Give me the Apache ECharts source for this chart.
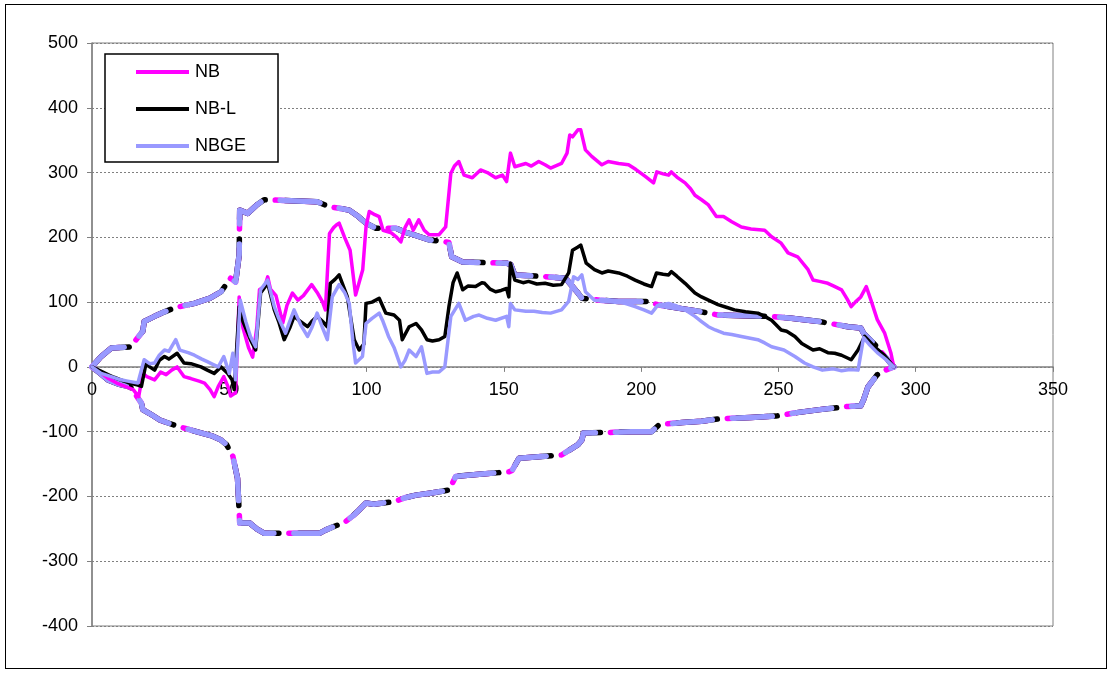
<!DOCTYPE html>
<html>
<head>
<meta charset="utf-8">
<script src="https://cdn.jsdelivr.net/npm/echarts@6/dist/echarts.min.js"></script>
<style>
  html, body { margin: 0; padding: 0; background: #fff; }
  #frame { position: absolute; left: 5px; top: 4px; width: 1102px; height: 665px; border: 1px solid #000; box-sizing: border-box; }
  #chart { position: absolute; left: 0; top: 0; width: 1110px; height: 673px; }
</style>
</head>
<body>
<div id="frame"></div>
<div id="chart"></div>
<script>
// Cumulative statistics, [step, value]
const nbData = [
  [0,0],[3,-8],[6,-18],[9,-25],[12,-30],[15,-35],[17,-46],[18.5,-10],[20,-15],[22.8,-20],[25,-8],[27,-12],[29,-5],[31,0],
  [33.5,-15],[36,-18],[39,-22],[41,-25],[43,-35],[44.5,-46],[46,-30],[48,-15],[49.5,-30],[50.5,-45],[52.3,-40],[53.6,108],
  [55,60],[57,30],[58.5,15],[60,60],[61,119],[63,125],[64,139],[65,120],[67,110],[69.5,68],[71,95],[73,114],[75,103],[77,110],
  [80,127],[82,115],[84,100],[85,88],[86.5,206],[88,215],[89,219],[90,222],[92,200],[94,180],[96,111],[98.6,150],[99.8,216],
  [101,240],[103,235],[104.6,232],[106,211],[109,207],[111,200],[112.5,193],[114,215],[115.5,227],[117,211],[119,227],[121,211],
  [122.8,204],[126.4,204],[128.8,216],[130.7,299],[132,310],[133.6,317],[135.5,296],[138.5,292],[141.5,304],[144,300],[147,292],
  [149.5,296],[151,286],[152.4,330],[154,309],[158,314],[160,310],[162.7,317],[165,312],[167,307],[171,314],[173,330],[174,358],
  [175,355],[177,366],[178,366],[179.7,335],[182,325],[185.7,312],[188,317],[191.8,314],[195.4,312],[198,305],[201.5,294],
  [204.5,284],[205.7,301],[208,298],[210,296],[211,301],[213,293],[216,284],[218,275],[219.6,265],[222,258],[224.5,250],
  [227.4,232],[230,232],[233,224],[236.5,216],[240,213],[245,211],[247.5,201],[251,191],[253.5,176],[257,170],[260.8,150],
  [262.6,134],[265,132],[268,129],[270,125],[273,119],[275,105],[276.5,93],[278,100],[280,108],[282,124],[283.7,103],[286,73],
  [288.7,52],[291,21],[292,0]
];

const nblData = [
  [0,0],[3,-6],[5.8,-12],[8,-16],[10.5,-20],[13,-24],[16.7,-28],[18,-30],[19.7,6],[21,0],[22.8,-5],[24.5,10],[26.4,16],[28,12],
  [31,21],[33.5,6],[36,5],[39.7,0],[42,-5],[44.5,-10],[47,0],[49.4,-10],[51,-20],[51.8,-35],[53.6,93],[55,70],[57.7,42],[59.6,26],
  [61.4,114],[64,129],[66.4,88],[68,70],[70,42],[72,60],[73.6,78],[76,70],[78.5,62],[80,70],[82,78],[84,70],[85.7,62],[86.8,129],
  [88.5,135],[90,142],[91.5,125],[93,108],[95.5,42],[97.3,26],[99,35],[99.8,98],[102,100],[104.6,106],[107,83],[110,80],[112,72],
  [113,42],[115.5,62],[118,67],[120,57],[122,42],[124,40],[126.4,42],[128.5,47],[130,93],[131.5,130],[133,145],[135,119],[137,125],
  [139.7,124],[142,130],[143,129],[145,120],[147,116],[149,118],[151,121],[151.8,108],[152.4,160],[154,134],[157,130],[159,132],
  [162,128],[165,129],[168,126],[171,127],[173.6,145],[175,180],[177,185],[178,188],[180,160],[183,150],[185.7,145],[188,148],
  [191.8,145],[195,140],[197.8,134],[201,128],[203.8,124],[205.6,145],[208,143],[210,142],[211,147],[213,140],[216,129],
  [219.6,114],[222,108],[224.5,103],[228,96],[231,92],[234,88],[238,85],[242.5,83],[245,78],[247.5,72],[251,57],[253,55],[256,47],
  [258.5,36],[262.6,26],[265,28],[268,22],[270.5,21],[273,18],[276.5,11],[279,26],[281.4,47],[285,31],[288.6,18],[292,0]
];

const nbgeData = [
  [0,0],[3.3,-10],[7,-15],[10.5,-20],[13,-22],[16.7,-25],[19,11],[21,5],[22.8,6],[24.5,18],[26.4,26],[28,24],[30.5,42],[32,26],
  [35,22],[37.3,18],[40,12],[42,8],[44,4],[46,0],[48,16],[50,-10],[51.3,21],[52.3,-20],[54,103],[56,70],[57.7,47],[59.6,31],
  [61.4,119],[64,134],[66.4,93],[68,75],[70.5,52],[72,70],[73.6,88],[76,65],[78.5,47],[80,60],[82,83],[84,60],[85.7,42],[87.5,108],
  [90,127],[92,115],[93.7,98],[95,40],[96,6],[98.5,16],[99.8,67],[102,75],[104.6,83],[106,70],[108,47],[110,30],[112.5,0],[114,10],
  [115.5,26],[118,16],[120,31],[122,-10],[124,-8],[126.4,-8],[128.5,0],[130.7,78],[133.6,98],[136,72],[139,78],[141,80],[144,75],
  [147,72],[151,78],[151.8,62],[152.4,98],[154,88],[158,86],[161,86],[164,84],[167,83],[171,88],[173.6,101],[175.4,139],[177,135],
  [178.4,142],[179.7,116],[183,103],[187,102],[191.8,101],[195,97],[197.8,93],[201,88],[203.8,83],[206,95],[210,98],[213,94],
  [216,88],[219.6,78],[222,70],[224.5,62],[227,57],[230,52],[233,50],[236.5,47],[242.5,42],[245,37],[247.5,31],[252,26],[256,16],
  [259.5,6],[262.6,0],[266,-5],[270,-3],[273,-6],[276,-4],[279,-5],[281,45],[283,35],[286,22],[289,12],[292,0]
];

// Decision boundaries (upper / lower)
const upperBound = [
  [0,0],[3.3,16],[7,29],[14,31],[18.5,55],[19,70],[22.8,78],[26.4,85],[30,91],[34,95],[37.3,98],[43,106],[47,116],[50.5,137],
  [52.3,131],[53.6,173],[53.8,242],[56.7,237],[60,250],[62.7,258],[70,257],[82,255],[86.5,247],[90,245],[93.7,242],[97,232],
  [99.8,222],[103.4,214],[110.7,214],[114,208],[117,204],[122.8,196],[128.8,193],[130,192],[131,170],[135,162],[151,160],
  [152.5,158],[154,142],[163,140],[172.4,137],[177,114],[178.4,106],[185,103],[191.8,101],[202.7,101],[206,96],[210,93],
  [222,85],[228,80],[247.5,78],[254.7,75],[265,70],[275.4,62],[280,60],[281,52],[285,35],[288,20],[292,0]
];

const lowerBound = [
  [0,0],[3,-10],[5.8,-20],[10,-27],[14,-31],[18,-56],[18.5,-66],[21,-72],[24.7,-82],[28,-87],[30.8,-91],[34,-95],[38,-100],
  [44,-107],[47,-113],[49,-120],[51.3,-138],[53,-172],[53.8,-241],[57.4,-241],[60,-250],[62.8,-257],[82.8,-257],[85,-252],
  [88.3,-246],[92,-240],[95,-230],[97,-222],[99.8,-210],[102.6,-212],[106,-210],[110,-208],[114,-202],[118,-198],[123,-195],
  [127.5,-192],[130,-190],[132.5,-169],[140,-166],[151.8,-162],[153,-160],[155.5,-141],[165,-138],[171,-136],[174,-128],
  [177,-120],[178.4,-113],[179,-102],[190,-101],[196.5,-100],[203.8,-100],[206.6,-89],[215,-86],[222,-84],[228.7,-80],
  [240,-78],[249,-76],[256,-71],[265,-66],[275.4,-61],[280,-60],[281,-51],[282.6,-31],[286,-12],[289,-5],[292,0]
];

const seriesNames = ['NB', 'NB-L', 'NBGE'];
const seriesColors = ['#FF00FF', '#000000', '#9999FF'];
const seriesValues = [nbData, nblData, nbgeData];
const boundOffsets = [5, -5, 0];

const FONT = 'Liberation Sans, Arial, sans-serif';

const chart = echarts.init(document.getElementById('chart'), null, { renderer: 'canvas' });

const series = [];
// boundaries underneath
seriesNames.forEach((name, i) => {
  [upperBound, lowerBound].forEach((b, k) => {
    series.push({
      name: name + (k === 0 ? ' upper' : ' lower'),
      type: 'line',
      data: b,
      symbol: 'none',
      z: 2,
      silent: true,
      lineStyle: { color: seriesColors[i], width: 5.5, type: [40, 20], dashOffset: boundOffsets[i], cap: 'round', join: 'round' }
    });
  });
});
// cumulative paths on top
seriesNames.forEach((name, i) => {
  series.push({
    name: name,
    type: 'line',
    data: seriesValues[i],
    symbol: 'none',
    z: 3,
    itemStyle: { color: seriesColors[i] },
    lineStyle: { color: seriesColors[i], width: 3.5, cap: 'round', join: 'round' }
  });
});

// plot box geometry
const GRID = { left: 92, right: 57, top: 43, bottom: 47 };
const Y_MIN = -400, Y_MAX = 500;
const plotHeight = 673 - GRID.top - GRID.bottom;
// shift the horizontal axis up so it crosses the vertical axis at zero
const zeroOffset = -plotHeight * (0 - Y_MIN) / (Y_MAX - Y_MIN);

chart.setOption({
  animation: false,
  backgroundColor: 'transparent',
  grid: Object.assign({ show: true, borderColor: '#808080', borderWidth: 1, backgroundColor: 'transparent' }, GRID),
  legend: {
    data: seriesNames.map(n => ({ name: n, icon: 'rect' })),
    orient: 'vertical',
    left: 105, top: 54,
    padding: [9, 32, 7, 31],
    itemWidth: 53, itemHeight: 4, itemGap: 19,
    borderColor: '#000', borderWidth: 1.5, backgroundColor: '#fff',
    textStyle: { fontFamily: FONT, fontSize: 18, color: '#000', padding: [0, 0, 0, 1] }
  },
  xAxis: {
    type: 'value', min: 0, max: 350, interval: 50,
    offset: zeroOffset,
    axisLine: { onZero: false, lineStyle: { color: '#808080', width: 1.5 } },
    axisTick: { show: true, length: 5, lineStyle: { color: '#808080' } },
    axisLabel: { fontFamily: FONT, fontSize: 18, color: '#000', margin: 14 },
    splitLine: { show: false }
  },
  yAxis: {
    type: 'value', min: Y_MIN, max: Y_MAX, interval: 100,
    axisLine: { show: true, lineStyle: { color: '#808080', width: 1.5 } },
    axisTick: { show: true, length: 5, lineStyle: { color: '#808080' } },
    axisLabel: { fontFamily: FONT, fontSize: 18, color: '#000', margin: 14 },
    splitLine: { show: true, lineStyle: { color: '#808080', width: 1, type: [2, 2] } }
  },
  series: series
});
</script>
</body>
</html>
